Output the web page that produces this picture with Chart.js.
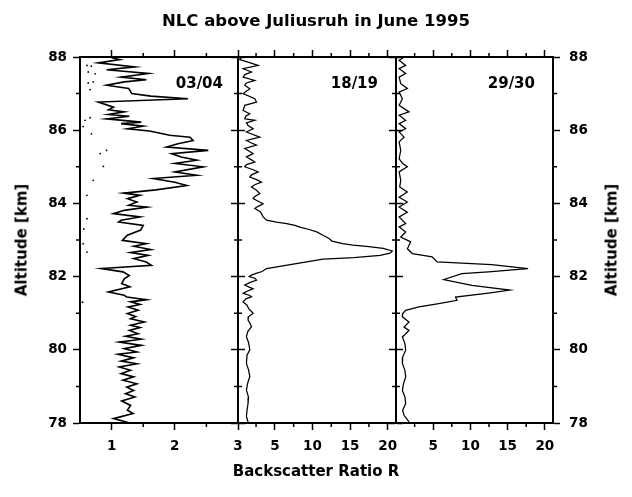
<!DOCTYPE html>
<html>
<head>
<meta charset="utf-8">
<title>NLC above Juliusruh in June 1995</title>
<script src="https://cdn.jsdelivr.net/npm/chart.js@4.4.1/dist/chart.umd.min.js"></script>
<style>
    body { margin: 0; background: #fff; }
    #wrap {
        position: relative; width: 632px; height: 497px; overflow: hidden;
        font-family: "DejaVu Sans", sans-serif; font-weight: bold; color: #000;
    }
    #wrap canvas { position: absolute; left: 0; top: 0; }
    .txt { position: absolute; white-space: nowrap; line-height: 1; }
    #title { left: 316px; top: 21px; font-size: 16.5px; transform: translate(-50%, -50%); }
    #xtitle { left: 316px; top: 471px; font-size: 15px; transform: translate(-50%, -50%); }
    .ytitle { top: 240px; font-size: 15px; transform: translate(-50%, -50%) rotate(-90deg); }
    #ytitle-left { left: 22px; }
    #ytitle-right { left: 612px; }
    .panel-label { top: 83px; font-size: 15px; transform: translateY(-50%); }
</style>
</head>
<body>
<div id="wrap">
    <canvas id="panel-0304" width="632" height="497"></canvas>
    <canvas id="panel-1819" width="632" height="497"></canvas>
    <canvas id="panel-2930" width="632" height="497"></canvas>
    <div class="txt" id="title">NLC above Juliusruh in June 1995</div>
    <div class="txt" id="xtitle">Backscatter Ratio R</div>
    <div class="txt ytitle" id="ytitle-left">Altitude [km]</div>
    <div class="txt ytitle" id="ytitle-right">Altitude [km]</div>
    <div class="txt panel-label" style="right: 409px;">03/04</div>
    <div class="txt panel-label" style="right: 254px;">18/19</div>
    <div class="txt panel-label" style="right: 97px;">29/30</div>
</div>
<script>
// altitude axis, shared by the three nights
const altTicks = [78, 80, 82, 84, 86, 88];
const altMinorTicks = [79, 81, 83, 85, 87];

// 03/04 June
const alt0304 = [87.98, 87.93, 87.84, 87.73, 87.65, 87.55, 87.45, 87.38, 87.32, 87.23, 87.14, 87.0, 86.93, 86.86, 86.77, 86.63, 86.56, 86.5, 86.43, 86.38,
    86.31, 86.22, 86.18, 86.11, 86.04, 85.98, 85.86, 85.81, 85.72, 85.63, 85.54, 85.45, 85.36, 85.27, 85.18, 85.09, 85.0, 84.86, 84.77, 84.68,
    84.58, 84.49, 84.37, 84.28, 84.22, 84.13, 84.04, 83.95, 83.9, 83.81, 83.72, 83.63, 83.54, 83.49, 83.4, 83.27, 83.13, 82.99, 82.9, 82.83,
    82.74, 82.66, 82.58, 82.49, 82.4, 82.31, 82.22, 82.13, 82.03, 81.94, 81.81, 81.72, 81.58, 81.49, 81.44, 81.37, 81.31, 81.24, 81.17, 81.08,
    80.99, 80.91, 80.85, 80.76, 80.67, 80.61, 80.53, 80.44, 80.37, 80.29, 80.21, 80.12, 80.03, 79.94, 79.88, 79.78, 79.69, 79.62, 79.53, 79.44,
    79.35, 79.26, 79.17, 79.07, 78.98, 78.89, 78.8, 78.71, 78.6, 78.48, 78.35, 78.26, 78.12, 78.0];
const ratio0304 = [1.0, 1.13, 0.79, 1.37, 0.92, 1.58, 1.15, 1.55, 1.2, 0.92, 1.27, 1.32, 1.62, 2.21, 0.79, 1.03, 0.95, 1.2, 0.95, 1.28,
    0.92, 1.47, 1.15, 1.5, 1.25, 1.6, 1.92, 2.24, 2.29, 2.05, 1.87, 2.53, 1.95, 2.1, 2.35, 2.0, 2.45, 2.0, 2.35, 1.66,
    2.0, 2.19, 1.7, 1.19, 1.45, 1.25, 1.4, 1.27, 1.56, 1.2, 1.03, 1.45, 1.15, 1.11, 1.5, 1.46, 1.25, 1.17, 1.55, 1.35,
    1.62, 1.3, 1.58, 1.35, 1.55, 1.63, 0.84, 1.18, 1.28, 1.2, 1.16, 1.29, 0.95, 1.2, 1.24, 1.55, 1.3, 1.45, 1.26, 1.42,
    1.25, 1.38, 1.3, 1.52, 1.3, 1.45, 1.28, 1.42, 1.22, 1.47, 1.12, 1.47, 1.2, 1.4, 1.1, 1.35, 1.15, 1.4, 1.12, 1.3,
    1.15, 1.35, 1.18, 1.4, 1.24, 1.35, 1.22, 1.37, 1.16, 1.3, 1.25, 1.34, 1.03, 1.29];
// scattered single points near the left edge of 03/04
const dotAlt0304 = [87.77, 87.75, 87.59, 87.54, 87.32, 87.29, 87.11, 86.34, 86.27, 86.1, 85.9, 85.45, 85.36, 85.01, 84.63, 84.22, 83.58, 83.3, 82.9, 82.67, 81.3];
const dotRatio0304 = [0.61, 0.68, 0.63, 0.74, 0.71, 0.63, 0.66, 0.66, 0.58, 0.55, 0.68, 0.92, 0.82, 0.87, 0.71, 0.61, 0.61, 0.56, 0.55, 0.61, 0.54];
const ticks0304 = [1, 2, 3];
const minorTicks0304 = [1.5, 2.5];

// 18/19 June
const alt1819 = [87.98, 87.93, 87.86, 87.77, 87.68, 87.59, 87.52, 87.45, 87.36, 87.29, 87.23, 87.13, 87.0, 86.86, 86.77, 86.68, 86.54, 86.45, 86.38, 86.31,
    86.27, 86.2, 86.13, 86.04, 85.95, 85.81, 85.72, 85.65, 85.59, 85.5, 85.42, 85.36, 85.27, 85.19, 85.13, 85.06, 85.0, 84.92, 84.86, 84.78,
    84.72, 84.65, 84.58, 84.51, 84.45, 84.36, 84.27, 84.19, 84.13, 84.06, 83.99, 83.92, 83.86, 83.78, 83.72, 83.63, 83.54, 83.49, 83.45, 83.4,
    83.35, 83.28, 83.22, 83.13, 83.04, 82.97, 82.9, 82.86, 82.82, 82.77, 82.7, 82.64, 82.58, 82.52, 82.48, 82.22, 82.14, 82.09, 82.04, 82.0,
    81.95, 81.9, 81.85, 81.77, 81.72, 81.67, 81.6, 81.54, 81.49, 81.45, 81.4, 81.31, 81.22, 81.13, 81.0, 80.9, 80.81, 80.72, 80.63, 80.5,
    80.36, 80.2, 80.0, 79.85, 79.63, 79.45, 79.27, 79.1, 78.9, 78.7, 78.54, 78.35, 78.18, 78.02];
const ratio1819 = [0.5, 0.33, 1.44, 2.78, 0.78, 1.89, 1.0, 0.78, 2.33, 1.22, 1.0, 1.67, 0.78, 2.33, 2.56, 1.0, 0.78, 1.67, 1.13, 1.0,
    2.33, 1.22, 1.44, 2.11, 1.22, 3.0, 1.22, 1.89, 2.56, 1.0, 1.67, 2.11, 1.22, 1.89, 2.33, 1.22, 1.0, 2.11, 2.78, 1.89,
    1.67, 2.56, 3.22, 2.33, 1.89, 2.56, 3.0, 2.33, 2.11, 2.78, 3.44, 2.78, 2.33, 3.0, 3.22, 3.44, 3.89, 5.22, 6.56, 7.67,
    8.33, 9.67, 10.56, 11.4, 12.2, 12.6, 14.0, 15.4, 17.5, 19.4, 20.6, 20.3, 19.0, 15.5, 11.4, 3.89, 3.3, 2.5, 1.9, 1.6,
    2.4, 2.56, 1.8, 1.0, 1.5, 2.11, 1.3, 0.78, 1.6, 1.89, 1.2, 0.78, 1.3, 1.5, 2.11, 1.5, 1.44, 1.7, 1.89, 1.4,
    1.22, 1.5, 1.67, 1.3, 1.22, 1.5, 1.67, 1.4, 1.22, 1.5, 1.44, 1.3, 1.22, 1.44];

// 29/30 June
const alt2930 = [87.98, 87.91, 87.77, 87.68, 87.55, 87.45, 87.27, 87.14, 87.04, 86.86, 86.68, 86.5, 86.41, 86.27, 86.18, 86.04, 85.95, 85.81, 85.68, 85.45,
    85.22, 85.09, 85.0, 84.86, 84.63, 84.45, 84.31, 84.17, 84.04, 83.9, 83.76, 83.63, 83.45, 83.36, 83.22, 83.08, 82.95, 82.76, 82.63, 82.54,
    82.4, 82.33, 82.22, 82.13, 82.08, 81.92, 81.76, 81.63, 81.55, 81.44, 81.35, 81.26, 81.17, 81.08, 80.99, 80.9, 80.76, 80.62, 80.53, 80.35,
    80.17, 79.99, 79.8, 79.62, 79.44, 79.26, 79.07, 78.89, 78.71, 78.53, 78.35, 78.21, 78.03];
const ratio2930 = [1.0, 0.42, 1.3, 0.42, 1.3, 0.42, 0.64, 1.52, 0.42, 0.86, 0.42, 1.75, 0.42, 1.3, 0.42, 1.3, 0.42, 1.08, 0.42, 0.64,
    0.42, 0.9, 1.52, 0.42, 0.64, 0.5, 1.52, 0.42, 1.52, 0.42, 1.52, 0.42, 1.3, 0.42, 1.3, 0.64, 1.97, 1.53, 2.2, 4.86,
    5.53, 12.86, 17.75, 12.42, 8.86, 6.42, 10.2, 15.3, 12.42, 8.0, 8.2, 5.75, 3.08, 1.3, 0.9, 0.86, 1.75, 1.08, 1.75, 0.86,
    1.2, 1.3, 0.9, 0.86, 1.2, 1.3, 1.0, 0.86, 1.2, 1.3, 0.9, 1.08, 1.75];

const ratioTicks = [5, 10, 15, 20];
const ratioMinorTicks = [2.5, 7.5, 12.5, 17.5];

const W = 632, H = 497;
const TOP = 57, BOTTOM = 423;
const tickFont = { family: 'DejaVu Sans', size: 13.5, weight: 'bold' };

// Chart.js has no minor ticks, so draw the short ones from the scales here
const minorTicks = {
    id: 'minorTicks',
    afterDraw(chart, args, opts) {
        const ctx = chart.ctx;
        const area = chart.chartArea;
        const len = 4;
        ctx.save();
        ctx.strokeStyle = '#000';
        ctx.lineWidth = 1.5;
        ctx.beginPath();
        opts.x.forEach(v => {
            const px = chart.scales.x.getPixelForValue(v);
            ctx.moveTo(px, area.bottom); ctx.lineTo(px, area.bottom + len);
            ctx.moveTo(px, area.top); ctx.lineTo(px, area.top - len);
        });
        opts.y.forEach(v => {
            const py = chart.scales.y.getPixelForValue(v);
            ctx.moveTo(area.left, py); ctx.lineTo(area.left - len, py);
            ctx.moveTo(area.right, py); ctx.lineTo(area.right + len, py);
        });
        ctx.stroke();
        ctx.restore();
    }
};

function axis(position, range, tickValues, size, showLabels, padding) {
    const horizontal = position === 'top' || position === 'bottom';
    return {
        type: 'linear',
        position: position,
        min: range[0],
        max: range[1],
        afterBuildTicks: s => { s.ticks = tickValues.map(v => ({ value: v })); },
        afterFit: s => { if (horizontal) s.height = size; else s.width = size; },
        ticks: {
            display: showLabels,
            callback: v => String(v),
            font: tickFont,
            color: '#000',
            padding: padding,
            maxRotation: 0,
            autoSkip: false
        },
        grid: {
            display: true,
            drawOnChartArea: false,
            drawTicks: true,
            tickLength: 7,
            tickWidth: 1.5,
            tickColor: '#000'
        },
        border: { display: true, color: '#000', width: 2 }
    };
}

function makePanel(id, p) {
    const datasets = [{
        data: p.alt.map((a, i) => ({ x: p.ratio[i], y: a })),
        showLine: true,
        borderColor: '#000',
        borderWidth: p.lineWidth,
        pointRadius: 0,
        tension: 0
    }];
    if (p.dotAlt) {
        datasets.push({
            data: p.dotAlt.map((a, i) => ({ x: p.dotRatio[i], y: a })),
            showLine: false,
            pointRadius: 0.9,
            pointBorderWidth: 0,
            backgroundColor: '#000'
        });
    }

    return new Chart(document.getElementById(id), {
        type: 'scatter',
        data: { datasets },
        plugins: [minorTicks],
        options: {
            responsive: false,
            animation: false,
            events: [],
            layout: { padding: 0 },
            plugins: {
                legend: { display: false },
                tooltip: { enabled: false },
                minorTicks: { x: p.minorX, y: altMinorTicks }
            },
            scales: {
                x: axis('bottom', p.xRange, p.ticksX, H - BOTTOM, true, 8),
                x2: axis('top', p.xRange, p.ticksX, TOP, false, 0),
                y: axis('left', [78, 88], altTicks, p.left, p.leftLabels, 6),
                y2: axis('right', [78, 88], altTicks, W - p.right, p.rightLabels, 9)
            }
        }
    });
}

makePanel('panel-0304', {
    alt: alt0304, ratio: ratio0304, dotAlt: dotAlt0304, dotRatio: dotRatio0304,
    xRange: [0.5, 3], ticksX: ticks0304, minorX: minorTicks0304, lineWidth: 1.6,
    left: 80, right: 238, leftLabels: true, rightLabels: false
});
makePanel('panel-1819', {
    alt: alt1819, ratio: ratio1819,
    xRange: [0.1, 21.1], ticksX: ratioTicks, minorX: ratioMinorTicks, lineWidth: 1.25,
    left: 238, right: 396, leftLabels: false, rightLabels: false
});
makePanel('panel-2930', {
    alt: alt2930, ratio: ratio2930,
    xRange: [0, 21.1], ticksX: ratioTicks, minorX: ratioMinorTicks, lineWidth: 1.25,
    left: 396, right: 553, leftLabels: false, rightLabels: true
});
</script>
</body>
</html>
